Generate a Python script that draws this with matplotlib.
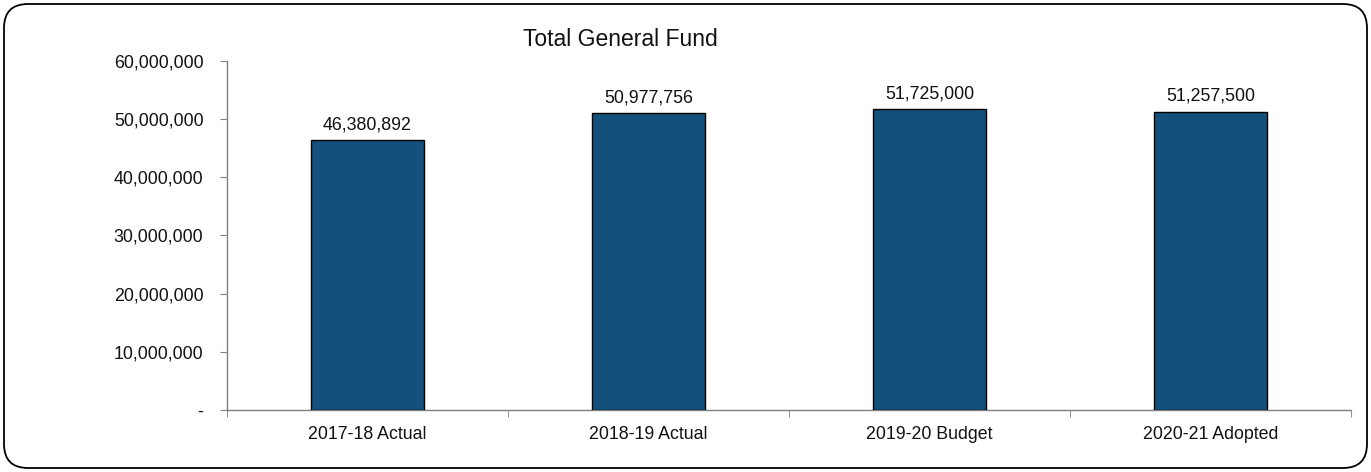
import matplotlib
matplotlib.use("Agg")
import matplotlib.pyplot as plt
from matplotlib.patches import FancyBboxPatch
from matplotlib.transforms import IdentityTransform
from matplotlib.ticker import FuncFormatter, FixedLocator

categories = ["2017-18 Actual", "2018-19 Actual", "2019-20 Budget", "2020-21 Adopted"]
values = [46380892, 50977756, 51725000, 51257500]
title = "Total General Fund"

plt.rcParams["font.family"] = ["Liberation Sans", "DejaVu Sans"]

fig = plt.figure(figsize=(13.71, 4.72), dpi=100)

# rounded outer border (pixel coordinates)
frame = FancyBboxPatch((4, 4), 1363, 464,
                       boxstyle="round,pad=0,rounding_size=24",
                       transform=IdentityTransform(), facecolor="none",
                       edgecolor="black", linewidth=1.3, zorder=5)
fig.patches.append(frame)

ax = fig.add_axes([0.1656, 0.1314, 0.8198, 0.7394])
ax.set_facecolor("none")

x = list(range(len(categories)))
ax.bar(x, values, width=0.4, color="#13517C", edgecolor="black", linewidth=1.0, zorder=3)

for xi, v in zip(x, values):
    ax.annotate(f"{v:,}", xy=(xi, v), xytext=(0, 11), textcoords="offset pixels",
                ha="center", va="baseline", fontsize=12.8, color="#111111")

ax.set_xlim(-0.5, len(categories) - 0.5)
ax.set_ylim(0, 60000000)
ax.set_yticks(range(0, 60000001, 10000000))
ax.yaxis.set_major_formatter(FuncFormatter(lambda v, p: "-" if v == 0 else f"{int(v):,}"))

ax.set_xticks(x)
ax.set_xticklabels(categories)
ax.xaxis.set_minor_locator(FixedLocator([i - 0.5 for i in range(len(categories) + 1)]))
ax.tick_params(axis="x", which="major", length=0, pad=11.5, labelsize=12.8, labelcolor="#111111")
ax.tick_params(axis="x", which="minor", length=5, color="#808080", direction="out")
ax.tick_params(axis="y", length=5, color="#808080", pad=12, labelsize=12.8, labelcolor="#111111")

for s in ["top", "right"]:
    ax.spines[s].set_visible(False)
for s in ["left", "bottom"]:
    ax.spines[s].set_color("#808080")
    ax.spines[s].set_linewidth(1.0)

fig.text(620 / 1371, 1 - 40 / 472, title, ha="center", va="center", fontsize=16.5, color="#111111")

fig.savefig("out.png", dpi=100)
